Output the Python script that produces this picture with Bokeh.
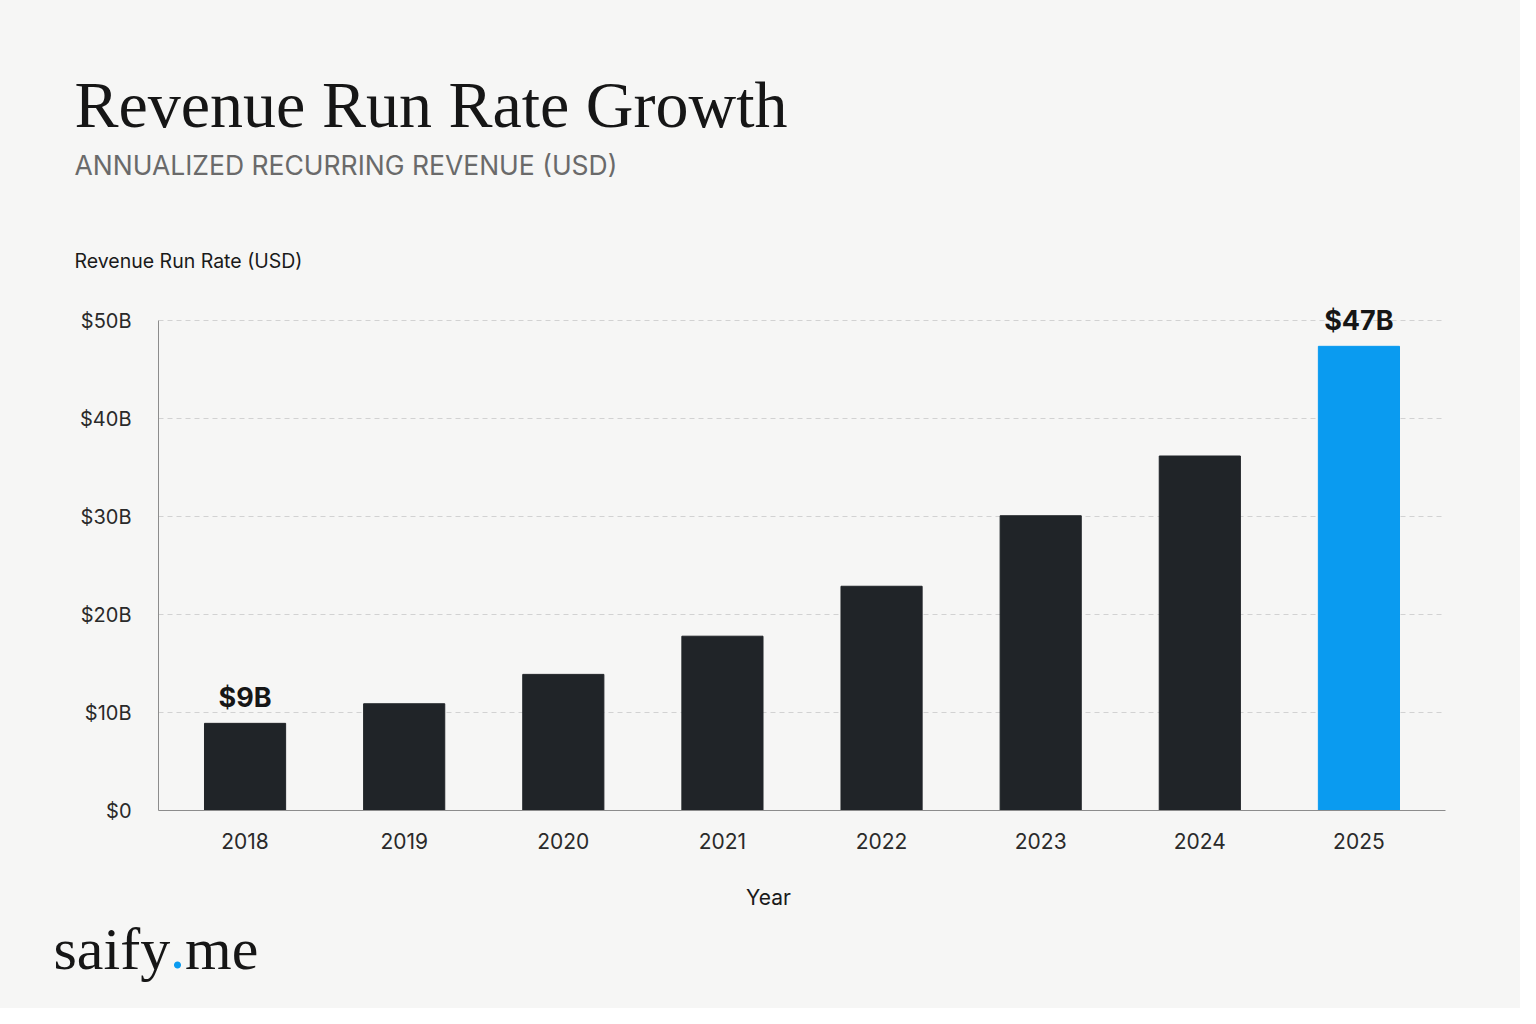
from bokeh.plotting import figure
from bokeh.layouts import column
from bokeh.models import ColumnDataSource, LabelSet, FixedTicker, FactorRange, Range1d
from bokeh.core.properties import value
from bokeh.embed import file_html
from bokeh.resources import INLINE

# ---- data ----
years = ["2018", "2019", "2020", "2021", "2022", "2023", "2024", "2025"]
revenue_b = [8.9, 10.9, 13.9, 17.8, 22.9, 30.1, 36.2, 47.4]
highlight_year = "2025"
y_ticks = [0, 10, 20, 30, 40, 50]
y_tick_labels = ["$0", "$10B", "$20B", "$30B", "$40B", "$50B"]
annotated_years = ["2018", "2025"]
annotation_labels = ["$9B", "$47B"]

title_text = "Revenue Run Rate Growth"
subtitle_text = "ANNUALIZED RECURRING REVENUE (USD)"
y_label_text = "Revenue Run Rate (USD)"
x_label_text = "Year"
brand_parts = ["saify", ".", "me"]

# ---- styles ----
BG = "#f6f6f5"
DARK = "#202428"
BLUE = "#0a9bf0"
INK = "#161616"
SANS = "Inter"
SERIF = "Liberation Serif"

W = 1520
HEADER_H = 280
MAIN_H = 590
FOOTER_H = 138


def text_panel(height, top):
    f = figure(width=W, height=height, frame_width=W, frame_height=height,
               x_range=Range1d(0, W), y_range=Range1d(top + height, top),
               x_axis_location=None, y_axis_location=None,
               output_backend="svg", toolbar_location=None,
               min_border=0, outline_line_color=None,
               background_fill_color=BG, border_fill_color=BG)
    f.grid.visible = False
    try:
        f.frame_align = False
    except Exception:
        pass
    return f


# ---- header ----
header = text_panel(HEADER_H, 0)
header.text(x=[74], y=[104], text=[title_text], text_font=value(SERIF),
            text_font_size=value("66px"), text_baseline="alphabetic", text_color=INK)
header.text(x=[74], y=[164], text=[subtitle_text], text_font=value(SANS),
            text_font_size=value("26.5px"), text_baseline="alphabetic", text_color="#6a6a6a")
header.text(x=[74], y=[260], text=[y_label_text], text_font=value(SANS),
            text_font_size=value("19.5px"), text_baseline="alphabetic", text_color="#1a1a1a")

# ---- main chart ----
colors = [BLUE if y == highlight_year else DARK for y in years]
src = ColumnDataSource(dict(year=years, value=revenue_b, color=colors))

lookup = dict(zip(years, revenue_b))
ann_src = ColumnDataSource(dict(
    year=annotated_years,
    value=[lookup[y] for y in annotated_years],
    text=annotation_labels,
))

p = figure(
    x_range=FactorRange(*years, range_padding=0.011),
    y_range=Range1d(y_ticks[0], 53),
    width=W, height=MAIN_H,
    output_backend="svg", toolbar_location=None,
    min_border_left=158, min_border_right=75,
    min_border_top=11, min_border_bottom=60,
    background_fill_color=BG, border_fill_color=BG,
    outline_line_color=None,
)

p.vbar(x="year", top="value", width=0.51, color="color", source=src)

p.add_layout(LabelSet(
    x="year", y="value", text="text", source=ann_src,
    y_offset=16, text_align="center", text_baseline="alphabetic",
    text_font=value(SANS), text_font_style="bold", text_font_size=value("27px"),
    text_color=INK,
))

# grid
p.xgrid.grid_line_color = None
p.ygrid.ticker = FixedTicker(ticks=y_ticks)
p.ygrid.grid_line_color = "#d2d2d2"
p.ygrid.grid_line_dash = "5 4"
p.ygrid.grid_line_width = 1

# y axis
p.yaxis.ticker = FixedTicker(ticks=y_ticks)
p.yaxis.bounds = (y_ticks[0], y_ticks[-1])
p.yaxis.major_label_overrides = {t: l for t, l in zip(y_ticks, y_tick_labels)}
p.yaxis.major_tick_line_color = None
p.yaxis.minor_tick_line_color = None
p.yaxis.axis_line_color = "#8c8c8c"
p.yaxis.major_label_text_font = SANS
p.yaxis.major_label_text_font_size = "20px"
p.yaxis.major_label_text_color = "#2a2a2a"
p.yaxis.major_label_standoff = 21

# x axis
p.xaxis.major_tick_line_color = None
p.xaxis.axis_line_color = "#8c8c8c"
p.xaxis.major_label_text_font = SANS
p.xaxis.major_label_text_font_size = "21px"
p.xaxis.major_label_text_color = "#2a2a2a"
p.xaxis.major_label_standoff = 16

# ---- footer (x label + brand) ----
footer = text_panel(FOOTER_H, HEADER_H + MAIN_H)
footer.text(x=[768], y=[897], text=[x_label_text], text_font=value(SANS),
            text_font_size=value("21px"), text_align="center",
            text_baseline="alphabetic", text_color="#1a1a1a")
brand_colors = [INK, BLUE, INK]
brand_x = [53, 169.6, 184.6]
footer.text(x=brand_x, y=[948] * 3, text=brand_parts, text_color=brand_colors,
            text_font=value(SERIF), text_font_size=value("60px"),
            text_baseline="alphabetic")

layout = column(header, p, footer, spacing=0, styles={"background-color": BG})
open("out.html", "w").write(file_html(layout, INLINE))
